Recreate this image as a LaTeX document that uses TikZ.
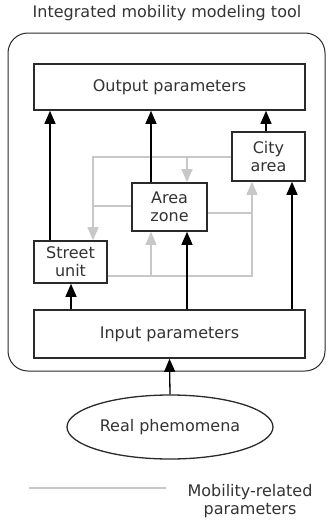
\documentclass[tikz,border=0pt]{standalone}
\usepackage{fontspec}
\setmainfont{DejaVu Sans}
\usetikzlibrary{arrows.meta,shapes.geometric}
\definecolor{ink}{HTML}{333333}
\definecolor{frame}{HTML}{2A2A2A}
\definecolor{lightlink}{HTML}{C8C8C8}
\begin{document}
\begin{tikzpicture}[x=1pt,y=-1pt,
  every node/.style={font=\fontsize{16}{18}\selectfont, text=ink},
  box/.style={draw=frame, line width=1.6pt, fill=white, inner sep=0pt, align=center},
  blk/.style={draw=black, line width=1.3pt, -{Triangle[width=11pt,length=13pt]}},
  gry/.style={draw=lightlink, line width=1.3pt},
  gryarr/.style={gry, -{Triangle[width=11pt,length=13pt,fill=lightlink]}}
]
\useasboundingbox (0,0) rectangle (331,522);

% title and outer frame
\node (title) at (167,13) {Integrated mobility modeling tool};
\draw[draw=frame, line width=1pt, rounded corners=20pt] (8,33) rectangle (325,371);

% boxes
\node[box, minimum width=271, minimum height=46] (out) at (169.5,87) {Output parameters};
\node[box, minimum width=73, minimum height=49] (city) at (268.5,156.5) {City\\area};
\node[box, minimum width=75, minimum height=48] (zone) at (169.5,207) {Area\\zone};
\node[box, minimum width=73, minimum height=42] (street) at (70.5,262) {Street\\unit};
\node[box, minimum width=271, minimum height=48] (in) at (169.5,334) {Input parameters};
\node[draw=frame, line width=1.3pt, ellipse, minimum width=206, minimum height=64, inner sep=0pt] (ph) at (170,427) {Real phemomena};

% column and row guides
\coordinate (xa) at (50,0);
\coordinate (xb) at (151,0);
\coordinate (xc) at (266,0);
\coordinate (xd) at (71,0);
\coordinate (xe) at (187,0);
\coordinate (xf) at (292,0);
\coordinate (xg) at (93,0);
\coordinate (xh) at (252,0);
\coordinate (ya) at (0,157);
\coordinate (yb) at (0,206);
\coordinate (yc) at (0,213);
\coordinate (yd) at (0,276);

% mobility-related (gray) links
\draw[gryarr] (city.west |- ya) -| (street.north -| xg);
\draw[gryarr] (xe |- ya) -- (zone.north -| xe);
\draw[gry] (zone.west |- yb) -- (xg |- yb);
\draw[gryarr] (zone.east |- yc) -| (city.south -| xh);
\draw[gry] (street.east |- yd) -| (xh |- yc);
\draw[gryarr] (xb |- yd) -- (zone.south -| xb);

% black links
\draw[blk] (street.north -| xa) -- (out.south -| xa);
\draw[blk] (zone.north -| xb) -- (out.south -| xb);
\draw[blk] (city.north -| xc) -- (out.south -| xc);
\draw[blk] (in.north -| xd) -- (street.south -| xd);
\draw[blk] (in.north -| xe) -- (zone.south -| xe);
\draw[blk] (in.north -| xf) -- (city.south -| xf);
\draw[blk] (ph.north) -- (in.south);

% legend
\coordinate (la) at (29,488);
\coordinate (lb) at (166,488);
\draw[gry] (la) -- (lb);
\node[align=center] (legend) at (250,501) {Mobility-related\\parameters};
\end{tikzpicture}
\end{document}
